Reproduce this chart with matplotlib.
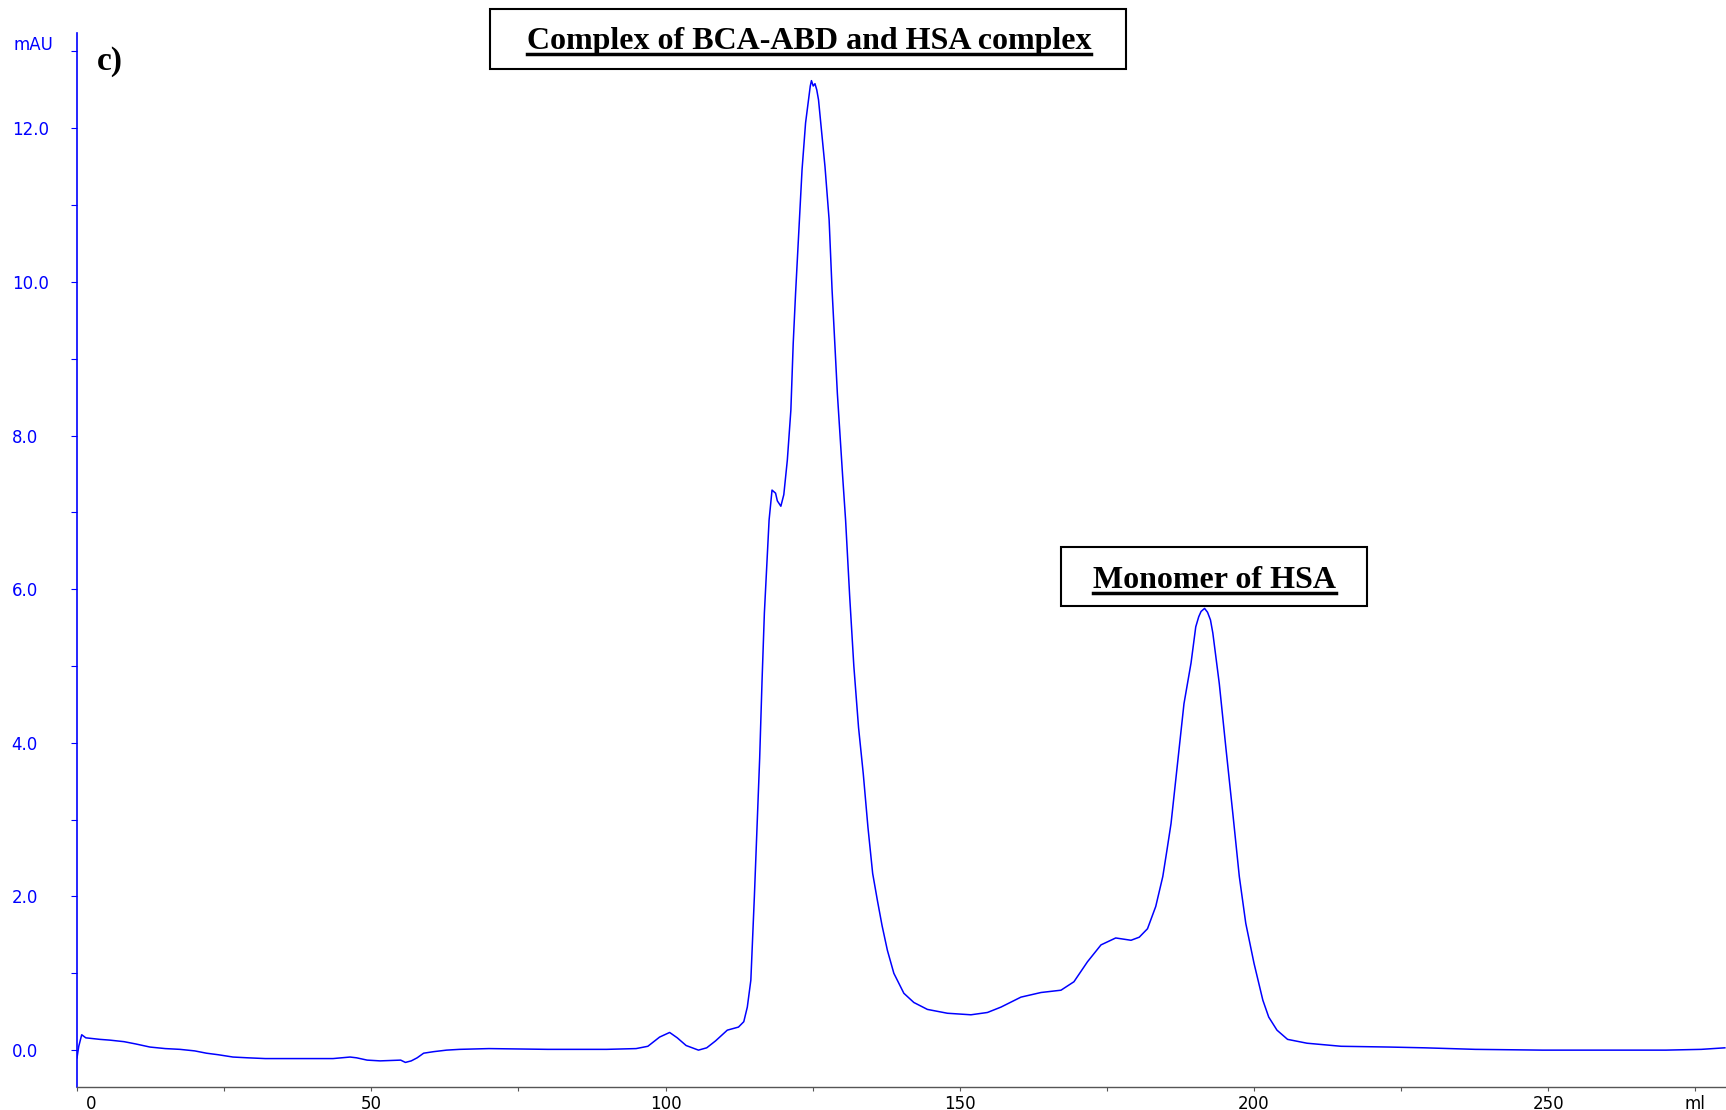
import matplotlib
matplotlib.use('Agg')
import matplotlib.pyplot as plt
from matplotlib.patches import Rectangle
from matplotlib.lines import Line2D
from matplotlib.transforms import ScaledTranslation

# chromatogram (elution volume in ml, absorbance in mAU)
volume_ml = [0.0, 0.3, 0.8, 1.5, 3.9, 5.6, 8.0, 10.0, 12.4, 15.0, 17.5, 20.0, 22.0, 24.0,
             26.5, 29.0, 32.0, 38.0, 43.5, 46.4, 47.5, 49.3, 51.5, 55.0, 55.8, 56.8, 57.8,
             58.9, 60.6, 62.8, 65.0, 70.0, 80.0, 90.0, 95.0, 97.0, 99.0, 100.7, 102.0,
             103.5, 105.6, 107.0, 108.5, 110.5, 112.4, 113.3, 113.9, 114.5, 115.1, 115.6,
             116.0, 116.4, 116.8, 117.3, 117.6, 118.1, 118.7, 119.0, 119.6, 120.1, 120.7,
             121.3, 121.7, 122.1, 122.7, 123.2, 123.8, 124.4, 124.6, 124.8, 125.1, 125.4,
             125.7, 126.0, 126.5, 127.1, 127.8, 128.3, 129.2, 130.1, 130.6, 131.3, 132.0,
             132.8, 133.6, 134.4, 135.2, 136.0, 136.8, 137.7, 138.8, 140.5, 142.2, 144.5,
             147.9, 151.9, 154.7, 157.0, 160.4, 163.8, 167.2, 169.4, 171.7, 174.0, 176.5,
             179.1, 180.5, 181.9, 183.3, 184.5, 185.2, 185.9, 187.0, 188.1, 189.3, 190.1,
             190.6, 191.0, 191.6, 192.1, 192.6, 193.0, 194.1, 195.2, 196.4, 197.5, 198.6,
             200.0, 201.5, 202.5, 203.9, 205.7, 209.0, 214.8, 223.0, 229.0, 237.6, 249.0,
             260.0, 270.0, 276.0, 280.0]
absorbance_mau = [-0.10, 0.05, 0.20, 0.16, 0.14, 0.13, 0.11, 0.08, 0.04, 0.02, 0.01, -0.01,
                  -0.04, -0.06, -0.09, -0.10, -0.11, -0.11, -0.11, -0.09, -0.10, -0.13,
                  -0.14, -0.13, -0.16, -0.14, -0.10, -0.04, -0.02, 0.00, 0.01, 0.02, 0.01,
                  0.01, 0.02, 0.05, 0.17, 0.23, 0.16, 0.06, 0.00, 0.03, 0.12, 0.26, 0.30,
                  0.37, 0.56, 0.91, 2.00, 3.00, 3.80, 4.80, 5.69, 6.45, 6.90, 7.29, 7.25,
                  7.15, 7.08, 7.23, 7.68, 8.33, 9.20, 9.85, 10.72, 11.46, 12.07, 12.43,
                  12.55, 12.62, 12.55, 12.58, 12.50, 12.37, 11.98, 11.50, 10.81, 9.90, 8.55,
                  7.47, 6.90, 5.90, 5.00, 4.20, 3.60, 2.90, 2.30, 1.95, 1.62, 1.30, 1.00,
                  0.74, 0.62, 0.53, 0.48, 0.46, 0.49, 0.56, 0.69, 0.75, 0.78, 0.89, 1.15,
                  1.37, 1.46, 1.43, 1.47, 1.58, 1.87, 2.26, 2.60, 2.95, 3.73, 4.51, 5.04,
                  5.51, 5.64, 5.71, 5.75, 5.70, 5.60, 5.43, 4.77, 3.95, 3.08, 2.26, 1.65,
                  1.13, 0.65, 0.43, 0.26, 0.14, 0.09, 0.05, 0.04, 0.03, 0.01, 0.00, 0.00,
                  0.00, 0.01, 0.03]

x_ticks = [0, 25, 50, 75, 100, 125, 150, 175, 200, 225, 250, 275]
x_labels = ['0', '', '50', '', '100', '', '150', '', '200', '', '250', 'ml']
y_major = [0, 2, 4, 6, 8, 10, 12]
y_labels = ['0.0', '2.0', '4.0', '6.0', '8.0', '10.0', '12.0']
y_minor = [1, 3, 5, 7, 9, 11, 13]

W, H = 1726, 1110
fig = plt.figure(figsize=(W / 100, H / 100), dpi=100)
ax = fig.add_axes([77 / W, 1 - 1087 / H, 1 - 77 / W, (1087 - 33) / H])

ax.plot(volume_ml, absorbance_mau, color='#0000ff', lw=1.1)
ax.set_xlim(0, 280.2)
ax.set_ylim(-0.48, 13.24)

for s in ['top', 'right']:
    ax.spines[s].set_visible(False)
ax.spines['left'].set_color('#0000ff')
ax.spines['left'].set_linewidth(1.2)
ax.spines['bottom'].set_color('#555555')
ax.spines['bottom'].set_linewidth(1.0)

ax.set_xticks(x_ticks)
ax.set_xticklabels(x_labels, fontsize=12, family='DejaVu Sans')
ax.tick_params(axis='x', direction='out', length=3, width=0.8, color='#555555', pad=3)
lbl0 = ax.get_xticklabels()[0]
lbl0.set_transform(lbl0.get_transform() + ScaledTranslation(0.14, 0, fig.dpi_scale_trans))

ax.set_yticks(y_major)
ax.set_yticklabels(y_labels, fontsize=12, family='DejaVu Sans', color='#0000ff', ha='left')
ax.set_yticks(y_minor, minor=True)
ax.tick_params(axis='y', which='both', direction='out', length=4, width=0.8,
               color='#0000ff', pad=43)

fig.text(13 / W, 1 - 45 / H, 'mAU', fontsize=12, family='DejaVu Sans', color='#0000ff',
         ha='left', va='center')
fig.text(97 / W, 1 - 70 / H, 'c)', fontsize=24, family='Liberation Serif', weight='bold',
         ha='left', va='baseline')

# boxed, underlined peak labels
renderer = fig.canvas.get_renderer()
def boxed_label(text, x0, x1, y0, y1, cx, base, uline):
    fig.add_artist(Rectangle((x0 / W, 1 - y1 / H), (x1 - x0) / W, (y1 - y0) / H,
                             transform=fig.transFigure, fill=True, facecolor='white',
                             edgecolor='black', lw=1.5))
    t = fig.text(cx / W, 1 - base / H, text, fontsize=23, family='Liberation Serif',
                 weight='bold', ha='center', va='baseline')
    bb = t.get_window_extent(renderer)
    fig.add_artist(Line2D([bb.x0 / W, bb.x1 / W], [1 - uline / H, 1 - uline / H],
                          transform=fig.transFigure, color='black', lw=2.5))

boxed_label('Complex of BCA-ABD and HSA complex', 490, 1126, 9, 69, 809, 49, 54)
boxed_label('Monomer of HSA', 1061, 1367, 547, 606, 1214, 588, 593)

fig.savefig('out.png', dpi=100)
